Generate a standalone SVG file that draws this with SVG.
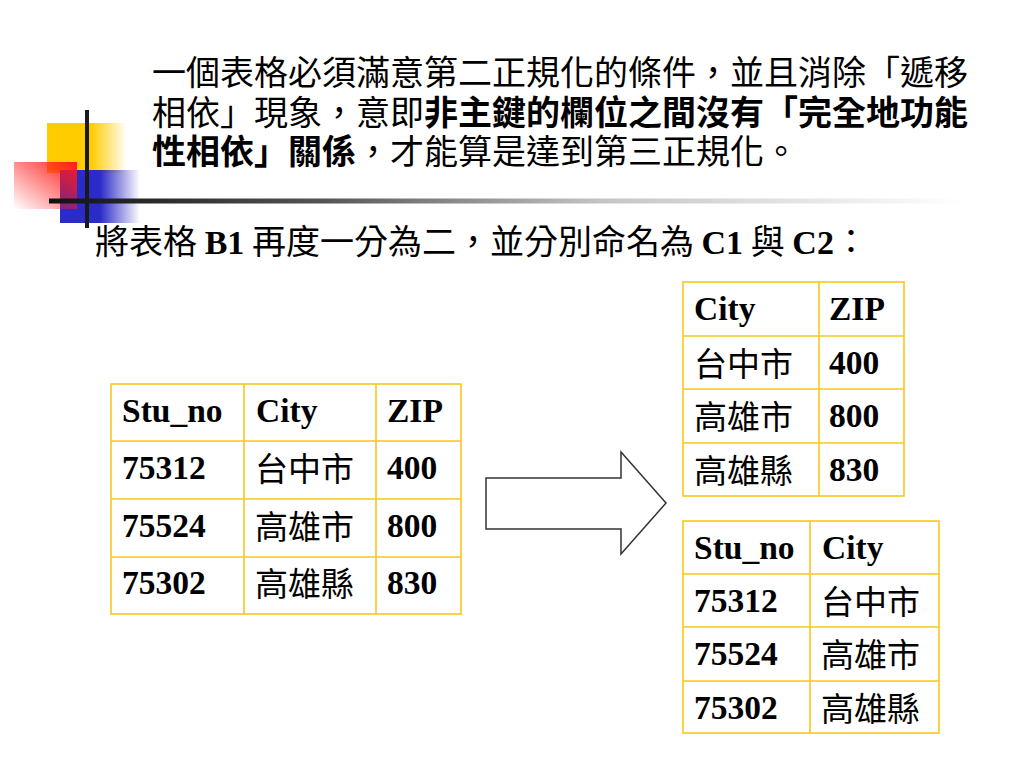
<svg xmlns="http://www.w3.org/2000/svg" width="1024" height="768" viewBox="0 0 1024 768">
<defs>
<style>
.cjk{font-family:"Noto Sans CJK TC","Noto Sans CJK SC",sans-serif;font-size:34px;fill:#000}
.b{font-weight:bold}
.lat{font-family:"Liberation Serif","Noto Sans CJK TC",serif;font-weight:bold}
.tt{font-family:"Liberation Serif","Noto Sans CJK TC",serif;font-size:33.5px;fill:#000}
.tc{font-family:"Noto Sans CJK TC",sans-serif;font-size:33px;font-weight:normal}
.grid{fill:#fff;stroke:#f7c71c;stroke-width:1.6}
.gl{stroke:#f7c71c;stroke-width:1.6}
</style>
<linearGradient id="gY" x1="0" y1="0" x2="1" y2="0">
<stop offset="0" stop-color="#ffcc00"/><stop offset="0.55" stop-color="#ffcc00"/><stop offset="1" stop-color="#ffcc00" stop-opacity="0"/>
</linearGradient>
<linearGradient id="gB" x1="0" y1="0" x2="1" y2="0">
<stop offset="0" stop-color="#2b2bc9"/><stop offset="0.5" stop-color="#2b2bc9"/><stop offset="1" stop-color="#2b2bc9" stop-opacity="0"/>
</linearGradient>
<linearGradient id="gR" x1="1" y1="0" x2="0" y2="1">
<stop offset="0" stop-color="#ff1a1a"/><stop offset="1" stop-color="#ff1a1a" stop-opacity="0"/>
</linearGradient>
<linearGradient id="gL" x1="0" y1="0" x2="1" y2="0">
<stop offset="0" stop-color="#111"/><stop offset="0.3" stop-color="#555"/><stop offset="0.6" stop-color="#c4c4c4"/><stop offset="1" stop-color="#fff"/>
</linearGradient>
</defs>
<rect width="1024" height="768" fill="#fff"/>

<g id="decoration">
<rect x="47" y="123" width="80" height="50" fill="url(#gY)"/>
<rect x="60" y="170" width="80" height="53" fill="url(#gB)"/>
<rect x="14" y="162" width="63" height="47" fill="url(#gR)"/>
<rect x="85" y="110" width="4" height="118" fill="#1a1a1a"/>
<rect x="49" y="198.5" width="915" height="5" fill="url(#gL)"/>
</g>

<g id="title" class="cjk">
<text x="152" y="85">一個表格必須滿意第二正規化的條件，並且消除「遞移</text>
<text x="152" y="125">相依」現象，意即<tspan class="b">非主鍵的欄位之間沒有「完全地功能</tspan></text>
<text x="152" y="164"><tspan class="b">性相依」關係</tspan>，才能算是達到第三正規化。</text>
</g>

<g id="subtitle" class="cjk">
<text x="95" y="254">將表格 <tspan class="lat">B1</tspan> 再度一分為二，並分別命名為 <tspan class="lat">C1</tspan> 與 <tspan class="lat">C2</tspan>：</text>
</g>

<g id="tableB1">
<rect class="grid" x="111" y="384" width="350" height="230"/>
<line class="gl" x1="244" y1="384" x2="244" y2="614"/>
<line class="gl" x1="376" y1="384" x2="376" y2="614"/>
<line class="gl" x1="111" y1="441" x2="461" y2="441"/>
<line class="gl" x1="111" y1="499" x2="461" y2="499"/>
<line class="gl" x1="111" y1="557" x2="461" y2="557"/>
<g class="tt b">
<text x="122" y="422">Stu_no</text><text x="256" y="422">City</text><text x="387" y="422">ZIP</text>
<text x="122" y="479">75312</text><text x="255" y="481" class="tc">台中市</text><text x="387" y="479">400</text>
<text x="122" y="537">75524</text><text x="255" y="539" class="tc">高雄市</text><text x="387" y="537">800</text>
<text x="122" y="594">75302</text><text x="255" y="596" class="tc">高雄縣</text><text x="387" y="594">830</text>
</g>
</g>

<g id="arrow">
<polygon points="486,478 621,478 621,452 666,503 621,554 621,529 486,529" fill="#fff" stroke="#333" stroke-width="1.5"/>
</g>

<g id="tableC1">
<rect class="grid" x="683" y="282" width="221" height="214"/>
<line class="gl" x1="819" y1="282" x2="819" y2="496"/>
<line class="gl" x1="683" y1="336" x2="904" y2="336"/>
<line class="gl" x1="683" y1="389" x2="904" y2="389"/>
<line class="gl" x1="683" y1="443" x2="904" y2="443"/>
<g class="tt b">
<text x="694" y="320">City</text><text x="829" y="320">ZIP</text>
<text x="694" y="376" class="tc">台中市</text><text x="829" y="374">400</text>
<text x="694" y="429" class="tc">高雄市</text><text x="829" y="427">800</text>
<text x="694" y="483" class="tc">高雄縣</text><text x="829" y="481">830</text>
</g>
</g>

<g id="tableC2">
<rect class="grid" x="683" y="521" width="256" height="212"/>
<line class="gl" x1="810" y1="521" x2="810" y2="733"/>
<line class="gl" x1="683" y1="574" x2="939" y2="574"/>
<line class="gl" x1="683" y1="627" x2="939" y2="627"/>
<line class="gl" x1="683" y1="681" x2="939" y2="681"/>
<g class="tt b">
<text x="694" y="559">Stu_no</text><text x="822" y="559">City</text>
<text x="694" y="612">75312</text><text x="821" y="614" class="tc">台中市</text>
<text x="694" y="665">75524</text><text x="821" y="667" class="tc">高雄市</text>
<text x="694" y="719">75302</text><text x="821" y="721" class="tc">高雄縣</text>
</g>
</g>
</svg>
